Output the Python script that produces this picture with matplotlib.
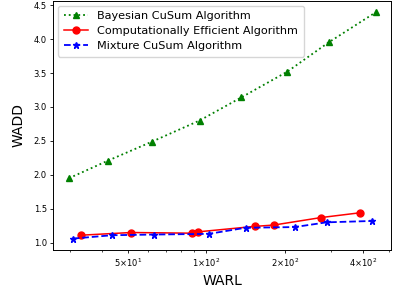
import matplotlib
matplotlib.use("Agg")
import matplotlib.pyplot as plt

# values
bayes_warl = [29.8, 42.1, 62.1, 94.3, 136.2, 204.4, 294.0, 448.0]
bayes_wadd = [1.95, 2.21, 2.49, 2.80, 3.14, 3.52, 3.95, 4.40]

eff_warl = [33.0, 51.6, 88.1, 93.2, 153.1, 181.6, 274.8, 386.8]
eff_wadd = [1.11, 1.15, 1.14, 1.16, 1.24, 1.26, 1.37, 1.44]

mix_warl = [30.8, 43.6, 63.2, 102.3, 141.4, 217.9, 289.1, 431.0]
mix_wadd = [1.06, 1.11, 1.12, 1.13, 1.22, 1.23, 1.30, 1.32]

xticks = [50, 100, 200, 400]
xticklabels = [r"$5{\times}10^{1}$", r"$1{\times}10^{2}$",
               r"$2{\times}10^{2}$", r"$4{\times}10^{2}$"]
xminor = [30, 40, 60, 70, 80, 90, 300, 500]

fig = plt.figure(figsize=(4.05, 2.92), dpi=100)
ax = fig.add_axes([0.131, 0.144, 0.835, 0.854])

ax.plot(bayes_warl, bayes_wadd, ':^', color='green', lw=1.3, ms=5,
        label='Bayesian CuSum Algorithm')
ax.plot(eff_warl, eff_wadd, '-o', color='red', lw=1.1, ms=5,
        label='Computationally Efficient Algorithm')
ax.plot(mix_warl, mix_wadd, '--*', color='blue', lw=1.3, ms=5,
        label='Mixture CuSum Algorithm')

ax.set_xscale('log')
ax.set_xlim(25.9, 511)
ax.set_xticks(xticks)
ax.set_xticklabels(xticklabels)
ax.set_xticks(xminor, minor=True)
ax.set_xticklabels([], minor=True)
ax.set_yticks([1.0, 1.5, 2.0, 2.5, 3.0, 3.5, 4.0, 4.5])

ax.tick_params(which='major', labelsize=6, length=2.5, width=0.6, pad=2)
ax.tick_params(which='minor', length=1.5, width=0.5)
for s in ax.spines.values():
    s.set_linewidth(0.7)

ax.set_xlabel('WARL', fontsize=10, labelpad=4)
ax.set_ylabel('WADD', fontsize=10, labelpad=6)
ax.legend(loc='upper left', fontsize=8.1, handlelength=2.2,
          borderaxespad=0.45, labelspacing=0.43, borderpad=0.5)

fig.savefig('out.png', dpi=100)
